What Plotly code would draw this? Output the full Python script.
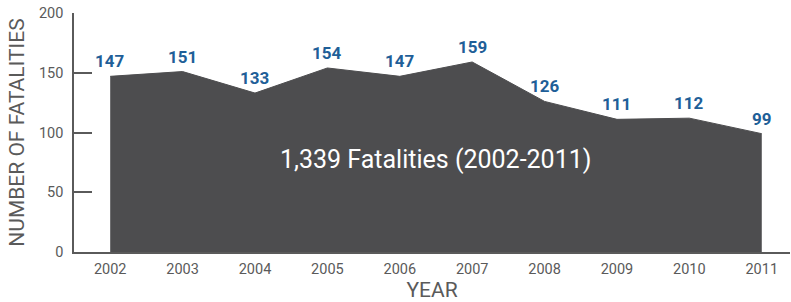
import plotly.graph_objects as go

years = [2002, 2003, 2004, 2005, 2006, 2007, 2008, 2009, 2010, 2011]
fatalities = [147, 151, 133, 154, 147, 159, 126, 111, 112, 99]
y_ticks = [0, 50, 100, 150, 200]
total_label = "1,339 Fatalities (2002-2011)"

fill_color = "#4d4d4f"
label_color = "#1f5f98"
axis_color = "#5a5a5a"
font_family = "Roboto, 'DejaVu Sans', sans-serif"

fig = go.Figure()
fig.add_trace(go.Scatter(
    x=years, y=fatalities, mode="lines", fill="tozeroy",
    line=dict(color=fill_color, width=1), fillcolor=fill_color,
    hoverinfo="skip", showlegend=False,
))

for x, y in zip(years, fatalities):
    fig.add_annotation(x=x, y=y, text=f"<b>{y}</b>", showarrow=False,
                       yshift=15, font=dict(color=label_color, size=17, family=font_family))

fig.add_annotation(x=2006.5, y=77, text=total_label, showarrow=False,
                   font=dict(color="white", size=25, family=font_family))

fig.update_layout(
    width=791, height=302,
    margin=dict(l=74, r=1, t=13, b=50),
    paper_bgcolor="white", plot_bgcolor="white",
    font=dict(family=font_family, color=axis_color),
    xaxis=dict(
        range=[2001.5, 2011.39], tickvals=years, ticktext=[str(v) for v in years],
        showgrid=False, zeroline=False, showline=True, linecolor=axis_color, linewidth=1.5,
        ticks="", tickfont=dict(size=14.5, color=axis_color), automargin=False,
        ticklabelstandoff=3,
        title=dict(text="YEAR", font=dict(size=21, color=axis_color), standoff=6),
    ),
    yaxis=dict(
        range=[0, 200], tickvals=y_ticks,
        showgrid=False, zeroline=False, showline=True, linecolor=axis_color, linewidth=1.5,
        ticks="inside", ticklen=18, tickwidth=1.5, tickcolor=axis_color,
        tickfont=dict(size=14.5, color=axis_color), automargin=False,
        ticklabelstandoff=6,
        title=dict(text="NUMBER OF FATALITIES", font=dict(size=21, color=axis_color), standoff=9),
    ),
)

fig.write_html("out.html", config={"displayModeBar": False},
               post_script="document.body.style.margin='0';")
